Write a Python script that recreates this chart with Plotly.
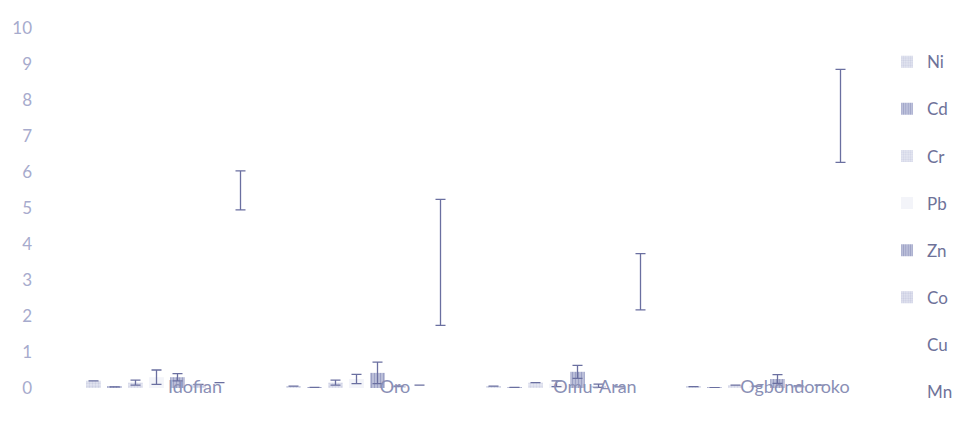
import plotly.graph_objects as go

sites = ["Idofian", "Oro", "Omu-Aran", "Ogbondoroko"]
metals = ["Ni", "Cd", "Cr", "Pb", "Zn", "Co", "Cu", "Mn"]

ni = [0.2, 0.05, 0.05, 0.04]
cd = [0.03, 0.02, 0.02, 0.01]
cr = [0.15, 0.15, 0.15, 0.08]
pb = [0.3, 0.25, 0.12, 0.05]
zn = [0.3, 0.42, 0.45, 0.25]
co = [0.1, 0.05, 0.06, 0.06]
cu = [0.15, 0.08, 0.03, 0.08]
mn = [5.49, 3.49, 2.95, 7.56]

ni_err = [0, 0, 0, 0]
cd_err = [0, 0, 0, 0]
cr_err = [0.07, 0.07, 0, 0]
pb_err = [0.2, 0.13, 0.08, 0]
zn_err = [0.1, 0.3, 0.18, 0.12]
co_err = [0, 0, 0.05, 0]
cu_err = [0, 0, 0, 0]
mn_err = [0.54, 1.75, 0.78, 1.29]

values = [ni, cd, cr, pb, zn, co, cu, mn]
errors = [ni_err, cd_err, cr_err, pb_err, zn_err, co_err, cu_err, mn_err]
colors = ["#e4e6f1", "#c3c6de", "#e6e8f2", "#f3f4f9", "#c0c4dc", "#e2e4f0", "#ffffff", "#ffffff"]
fgcols = ["#b4b8d4", "#7c82b2", "#bcc0da", "", "#767cae", "#b0b4d2", "", ""]
patterns = [".", "|", ".", "", "|", ".", "", ""]

fig = go.Figure()
for i, m in enumerate(metals):
    fig.add_trace(go.Bar(
        name=m, x=sites, y=values[i], legendgroup=m,
        marker=dict(color=colors[i], line=dict(width=0),
                    pattern=dict(shape=patterns[i], fgcolor=fgcols[i], size=3, solidity=0.45) if patterns[i] else None),
        error_y=dict(type="data", array=errors[i], visible=True, color="#6a6fa0",
                     thickness=1.3, width=5),
    ))

fig.update_layout(
    width=963, height=445,
    margin=dict(l=59, r=104, t=20, b=65, autoexpand=False),
    paper_bgcolor="white", plot_bgcolor="white",
    barmode="group", bargap=0.16, bargroupgap=0.3,
    font=dict(family="Lato, sans-serif", color="#8a8fb5"),
    showlegend=True,
    legend=dict(x=1.025, xanchor="left", y=0.955, yanchor="top",
                traceorder="grouped", tracegroupgap=22, maxheight=1.0,
                font=dict(size=17, color="#6e7299"), bgcolor="rgba(0,0,0,0)"),
    xaxis=dict(showgrid=False, showline=False, zeroline=False, ticks="",
               tickfont=dict(size=18, color="#8a8fb5"), ticklabelshift=28, ticklabelstandoff=-14),
    yaxis=dict(range=[0, 10], dtick=1, showgrid=False, showline=False, zeroline=False,
               ticks="", tickfont=dict(size=17, color="#a7abcd"), ticklabelstandoff=34),
)

fig.write_html("out.html")
